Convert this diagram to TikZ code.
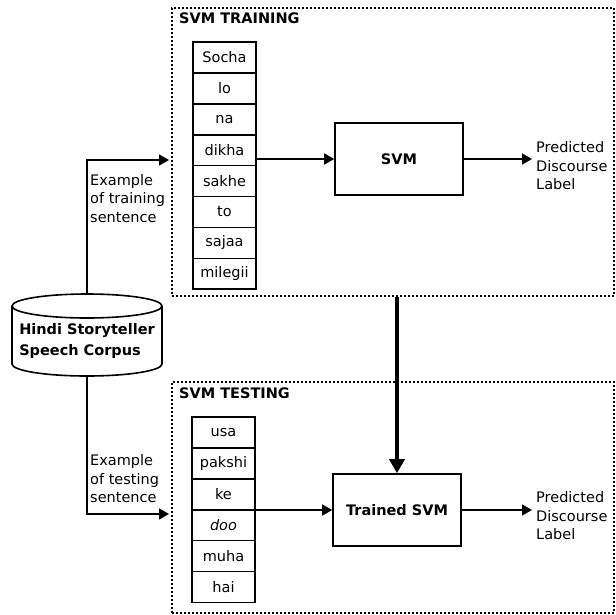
\documentclass[tikz,border=0pt]{standalone}
\usepackage{fontspec}
\setmainfont{DejaVu Sans}
\usetikzlibrary{positioning,arrows.meta}
\tikzset{
  stage/.style   = {draw, dotted, line width=2pt, rectangle, inner sep=0pt},
  title/.style   = {font=\fontsize{14.5}{18.5}\selectfont\bfseries, inner sep=1pt},
  word/.style    = {draw, line width=1.6pt, rectangle, minimum width=63pt,
                    minimum height=30.9pt, inner sep=0pt, outer sep=0pt},
  classifier/.style = {draw, line width=1.6pt, rectangle, minimum width=128pt,
                    minimum height=72pt, font=\fontsize{14.5}{18.5}\selectfont\bfseries},
  can/.style     = {draw, line width=1.6pt},
  corpus/.style  = {align=left, inner sep=0pt,
                    font=\fontsize{14.5}{21}\selectfont\bfseries},
  flow/.style    = {-{Triangle[length=10pt,width=11pt]}, line width=1.6pt},
  bigflow/.style = {-{Triangle[length=14pt,width=15pt]}, line width=4pt},
  note/.style    = {align=left, inner sep=1pt}
}

\begin{document}
\begin{tikzpicture}[x=1pt, y=-1pt, font=\fontsize{14.5}{18.5}\selectfont]
  \useasboundingbox (0,0) rectangle (616,614);

  % the two stages
  \node[stage, minimum width=442pt, minimum height=288pt, anchor=north west] (train) at (171,7) {};
  \node[stage, minimum width=442pt, minimum height=231pt, anchor=north west] (test) at (171,381) {};
  \node[title, anchor=west] (trtitle) at (178,18) {SVM TRAINING};
  \node[title, anchor=west] (tetitle) at (178,393) {SVM TESTING};

  % training sentence
  \node[word, anchor=north west] (w1) at (193,42) {Socha};
  \node[word, below=0pt of w1] (w2) {lo};
  \node[word, below=0pt of w2] (w3) {na};
  \node[word, below=0pt of w3] (w4) {dikha};
  \node[word, below=0pt of w4] (w5) {sakhe};
  \node[word, below=0pt of w5] (w6) {to};
  \node[word, below=0pt of w6] (w7) {sajaa};
  \node[word, below=0pt of w7] (w8) {milegii};

  % testing sentence
  \node[word, anchor=north west] (t1) at (192,417) {usa};
  \node[word, below=0pt of t1] (t2) {pakshi};
  \node[word, below=0pt of t2] (t3) {ke};
  \node[word, below=0pt of t3] (t4) {\itshape doo};
  \node[word, below=0pt of t4] (t5) {muha};
  \node[word, below=0pt of t5] (t6) {hai};

  % classifiers
  \node[classifier] (svm) at (399,159) {SVM};
  \node[classifier] (tsvm) at (397,510) {Trained SVM};

  % corpus (drawn as a can)
  \draw[can] (12,306) -- (12,364) arc[start angle=180, end angle=360, x radius=75pt, y radius=12pt]
             -- (162,306);
  \draw[can] (87,306) ellipse [x radius=75pt, y radius=12pt];
  \coordinate (cantop) at (87,294);
  \coordinate (canbot) at (87,376);
  \node[corpus] (corpus) at (87,341) {Hindi Storyteller\\Speech Corpus};

  % outputs
  \coordinate (trout) at (532,159);
  \coordinate (teout) at (532,510);
  \node[note, anchor=west] (trlab) at (535,166) {Predicted\\Discourse\\Label};
  \node[note, anchor=west] (telab) at (535,516) {Predicted\\Discourse\\Label};

  % inputs
  \coordinate (trin) at (169,160);
  \coordinate (tein) at (169,514);
  \node[note, anchor=north west] (trnote) at (89,173) {Example\\of training\\sentence};
  \node[note, anchor=south west] (tenote) at (89,504) {Example\\of testing\\sentence};

  \draw[flow] (cantop) |- (trin);
  \draw[flow] (canbot) |- (tein);
  \draw[flow] (svm.west -| w4.east) -- (svm.west);
  \draw[flow] (tsvm.west -| t3.east) -- (tsvm.west);
  \draw[flow] (svm.east) -- (trout);
  \draw[flow] (tsvm.east) -- (teout);
  \draw[bigflow] (train.south -| tsvm.north) -- (tsvm.north);
\end{tikzpicture}
\end{document}
